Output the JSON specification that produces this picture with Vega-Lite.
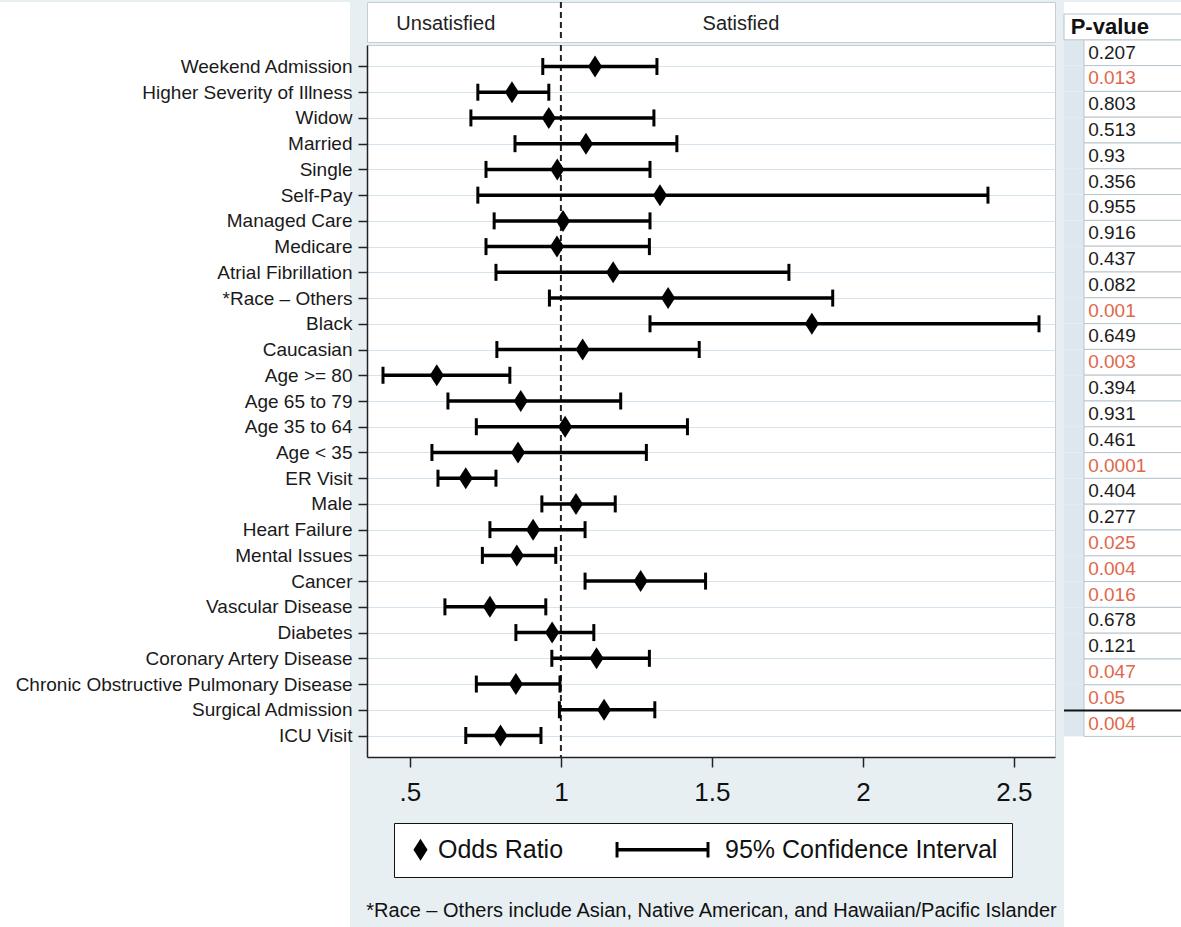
{
  "$schema": "https://vega.github.io/schema/vega-lite/v6.json",
  "background": "#e7eff3",
  "padding": 0,
  "autosize": {"type": "pad"},
  "config": {"view": {"stroke": null}, "font": "Liberation Sans"},
  "datasets": {
    "rows": [
      {"label": "Weekend Admission", "lo": 0.94, "or": 1.113, "hi": 1.318, "p": "0.207", "sig": false},
      {"label": "Higher Severity of Illness", "lo": 0.725, "or": 0.838, "hi": 0.96, "p": "0.013", "sig": true},
      {"label": "Widow", "lo": 0.702, "or": 0.96, "hi": 1.308, "p": "0.803", "sig": false},
      {"label": "Married", "lo": 0.848, "or": 1.083, "hi": 1.384, "p": "0.513", "sig": false},
      {"label": "Single", "lo": 0.752, "or": 0.988, "hi": 1.295, "p": "0.93", "sig": false},
      {"label": "Self-Pay", "lo": 0.725, "or": 1.328, "hi": 2.414, "p": "0.356", "sig": false},
      {"label": "Managed Care", "lo": 0.779, "or": 1.007, "hi": 1.295, "p": "0.955", "sig": false},
      {"label": "Medicare", "lo": 0.752, "or": 0.987, "hi": 1.293, "p": "0.916", "sig": false},
      {"label": "Atrial Fibrillation", "lo": 0.785, "or": 1.173, "hi": 1.755, "p": "0.437", "sig": false},
      {"label": "*Race – Others", "lo": 0.962, "or": 1.355, "hi": 1.9, "p": "0.082", "sig": false},
      {"label": "Black", "lo": 1.295, "or": 1.831, "hi": 2.583, "p": "0.001", "sig": true},
      {"label": "Caucasian", "lo": 0.788, "or": 1.072, "hi": 1.458, "p": "0.649", "sig": false},
      {"label": "Age >= 80", "lo": 0.411, "or": 0.589, "hi": 0.831, "p": "0.003", "sig": true},
      {"label": "Age 65 to 79", "lo": 0.626, "or": 0.867, "hi": 1.198, "p": "0.394", "sig": false},
      {"label": "Age 35 to 64", "lo": 0.72, "or": 1.014, "hi": 1.419, "p": "0.931", "sig": false},
      {"label": "Age < 35", "lo": 0.573, "or": 0.858, "hi": 1.283, "p": "0.461", "sig": false},
      {"label": "ER Visit", "lo": 0.593, "or": 0.685, "hi": 0.785, "p": "0.0001", "sig": true},
      {"label": "Male", "lo": 0.937, "or": 1.05, "hi": 1.18, "p": "0.404", "sig": false},
      {"label": "Heart Failure", "lo": 0.765, "or": 0.908, "hi": 1.08, "p": "0.277", "sig": false},
      {"label": "Mental Issues", "lo": 0.74, "or": 0.854, "hi": 0.983, "p": "0.025", "sig": true},
      {"label": "Cancer", "lo": 1.08, "or": 1.264, "hi": 1.479, "p": "0.004", "sig": true},
      {"label": "Vascular Disease", "lo": 0.616, "or": 0.765, "hi": 0.95, "p": "0.016", "sig": true},
      {"label": "Diabetes", "lo": 0.851, "or": 0.971, "hi": 1.109, "p": "0.678", "sig": false},
      {"label": "Coronary Artery Disease", "lo": 0.97, "or": 1.118, "hi": 1.293, "p": "0.121", "sig": false},
      {"label": "Chronic Obstructive Pulmonary Disease", "lo": 0.72, "or": 0.851, "hi": 0.997, "p": "0.047", "sig": true},
      {"label": "Surgical Admission", "lo": 0.995, "or": 1.143, "hi": 1.311, "p": "0.05", "sig": true},
      {"label": "ICU Visit", "lo": 0.685, "or": 0.8, "hi": 0.934, "p": "0.004", "sig": true}
    ]
  },
  "bounds": "full",
  "spacing": -336,
  "hconcat": [
    {
      "width": 350,
      "height": 927,
      "view": {"fill": "white", "stroke": null},
      "data": {"values": [{}]},
      "mark": {"type": "text"},
      "encoding": {"text": {"value": ""}}
    },
    {
      "bounds": "full",
      "spacing": 5,
      "hconcat": [
        {
          "bounds": "flush",
          "spacing": 3,
          "vconcat": [
            {
              "width": 688,
              "height": 40,
              "view": {"fill": "white", "stroke": "#c3ced5", "strokeWidth": 1},
              "data": {"values": [{}]},
              "layer": [
                {
                  "mark": {"type": "rule", "strokeDash": [6, 4], "strokeWidth": 2, "color": "#222"},
                  "encoding": {"x": {"datum": 1, "type": "quantitative", "scale": {"domain": [0.358, 2.636], "nice": false, "zero": false}, "axis": null}}
                },
                {
                  "mark": {"type": "text", "fontSize": 20, "color": "#222", "baseline": "middle", "dy": 2},
                  "encoding": {"x": {"datum": 0.619, "type": "quantitative"}, "text": {"value": "Unsatisfied"}}
                },
                {
                  "mark": {"type": "text", "fontSize": 20, "color": "#222", "baseline": "middle", "dy": 2},
                  "encoding": {"x": {"datum": 1.596, "type": "quantitative"}, "text": {"value": "Satisfied"}}
                }
              ]
            },
            {
              "width": 688,
              "height": 712,
              "view": {"fill": "white", "stroke": "#c3ced5", "strokeWidth": 1},
              "layer": [
                {
                  "data": {"values": [{}]},
                  "mark": {"type": "rule", "strokeDash": [6, 4], "strokeWidth": 2, "color": "#222"},
                  "encoding": {"x": {"datum": 1, "type": "quantitative", "title": "*Race – Others include Asian, Native American, and Hawaiian/Pacific Islander"}}
                },
                {
                  "data": {"name": "rows"},
                  "mark": {"type": "rule", "strokeWidth": 3.5, "color": "black"},
                  "encoding": {
                    "y": {
                      "field": "label", "type": "nominal", "sort": null, "title": null,
                      "scale": {"type": "point", "padding": 0.835},
                      "axis": {"labelFontSize": 19, "labelLimit": 400, "labelPadding": 6, "tickSize": 9, "tickColor": "#222", "tickWidth": 1.5, "domainColor": "#222", "domainWidth": 1.5, "labelColor": "#1a1a1a", "grid": true, "gridColor": "#d5e4ec", "gridWidth": 1}
                    },
                    "x": {
                      "field": "lo", "type": "quantitative",
                      "title": "*Race – Others include Asian, Native American, and Hawaiian/Pacific Islander",
                      "scale": {"domain": [0.358, 2.636], "nice": false, "zero": false},
                      "axis": {"values": [0.5, 1, 1.5, 2, 2.5], "labelExpr": "datum.value == 0.5 ? '.5' : format(datum.value, '~g')", "labelFontSize": 26, "labelColor": "#111", "tickSize": 10, "tickColor": "#222", "tickWidth": 1.5, "labelPadding": 12, "domainColor": "#222", "domainWidth": 1.5, "grid": false, "titleFontSize": 20, "titleFontWeight": "normal", "titleColor": "#111", "titleBaseline": "alphabetic", "titleY": 159}
                    },
                    "x2": {"field": "hi"}
                  }
                },
                {
                  "data": {"name": "rows"},
                  "mark": {"type": "tick", "orient": "vertical", "size": 17, "thickness": 3, "color": "black", "opacity": 1},
                  "encoding": {
                    "y": {"field": "label", "type": "nominal", "sort": null, "title": null},
                    "x": {"field": "lo", "type": "quantitative", "title": "*Race – Others include Asian, Native American, and Hawaiian/Pacific Islander"}
                  }
                },
                {
                  "data": {"name": "rows"},
                  "mark": {"type": "tick", "orient": "vertical", "size": 17, "thickness": 3, "color": "black", "opacity": 1},
                  "encoding": {
                    "y": {"field": "label", "type": "nominal", "sort": null, "title": null},
                    "x": {"field": "hi", "type": "quantitative", "title": "*Race – Others include Asian, Native American, and Hawaiian/Pacific Islander"}
                  }
                },
                {
                  "data": {"name": "rows"},
                  "mark": {"type": "point", "filled": true, "opacity": 1, "color": "black", "size": 484},
                  "encoding": {
                    "y": {"field": "label", "type": "nominal", "sort": null, "title": null},
                    "x": {"field": "or", "type": "quantitative", "title": "*Race – Others include Asian, Native American, and Hawaiian/Pacific Islander"},
                    "shape": {
                      "datum": "Odds Ratio",
                      "type": "nominal",
                      "scale": {"domain": ["Odds Ratio", "95% Confidence Interval"], "range": ["M0,-1L0.64,0L0,1L-0.64,0Z", "M-8.36,-0.15H0.18V0.15H-8.36Z M-8.36,-0.7H-8.09V0.7H-8.36Z M-0.09,-0.7H0.18V0.7H-0.09Z"]},
                      "legend": {"title": null, "orient": "none", "legendX": 394, "legendY": 821, "direction": "horizontal", "labelFontSize": 25, "labelColor": "#111", "symbolSize": 484, "symbolStrokeWidth": 0, "symbolFillColor": "black", "symbolOpacity": 1, "fillColor": "white", "strokeColor": "#111", "padding": 14, "columnPadding": 51, "labelOffset": 5, "labelLimit": 400}
                    }
                  }
                }
              ]
            }
          ]
        },
        {
          "width": 121,
          "height": 927,
          "view": {"fill": "white", "stroke": null},
          "layer": [
            {
              "data": {"name": "rows"},
              "mark": {"type": "rect", "color": "#dde8ee"},
              "encoding": {
                "y": {"field": "label", "type": "nominal", "axis": null, "title": null,
                  "scale": {"type": "band", "paddingInner": 0, "paddingOuter": 0.465, "align": 0.5,
                    "domain": ["P-value", "Weekend Admission", "Higher Severity of Illness", "Widow", "Married", "Single", "Self-Pay", "Managed Care", "Medicare", "Atrial Fibrillation", "*Race – Others", "Black", "Caucasian", "Age >= 80", "Age 65 to 79", "Age 35 to 64", "Age < 35", "ER Visit", "Male", "Heart Failure", "Mental Issues", "Cancer", "Vascular Disease", "Diabetes", "Coronary Artery Disease", "Chronic Obstructive Pulmonary Disease", "Surgical Admission", "ICU Visit", "_1", "_2", "_3", "_4", "_5", "_6", "_7"]}},
                "x": {"datum": 0, "type": "quantitative", "scale": {"domain": [0, 1], "nice": false, "zero": false}, "axis": null},
                "x2": {"datum": 0.165}
              }
            },
            {
              "data": {"name": "rows"},
              "mark": {"type": "rect", "fill": "white", "stroke": "#b8c5cd", "strokeWidth": 1},
              "encoding": {
                "y": {"field": "label", "type": "nominal"},
                "x": {"datum": 0.165, "type": "quantitative"},
                "x2": {"datum": 1}
              }
            },
            {
              "data": {"name": "rows"},
              "mark": {"type": "text", "align": "left", "baseline": "middle", "fontSize": 19},
              "encoding": {
                "y": {"field": "label", "type": "nominal"},
                "x": {"datum": 0.2, "type": "quantitative"},
                "text": {"field": "p"},
                "color": {"condition": {"test": "datum.sig", "value": "#e0674a"}, "value": "#1c1c1c"}
              }
            },
            {
              "data": {"values": [{"label": "P-value"}]},
              "mark": {"type": "rect", "fill": "white", "stroke": "#b8c5cd", "strokeWidth": 1},
              "encoding": {
                "y": {"field": "label", "type": "nominal"},
                "x": {"datum": 0, "type": "quantitative"},
                "x2": {"datum": 1}
              }
            },
            {
              "data": {"values": [{"label": "P-value"}]},
              "mark": {"type": "text", "align": "left", "baseline": "middle", "fontSize": 22, "fontWeight": "bold", "color": "#111"},
              "encoding": {
                "y": {"field": "label", "type": "nominal"},
                "x": {"datum": 0.055, "type": "quantitative"},
                "text": {"field": "label"}
              }
            },
            {
              "data": {"values": [{"label": "ICU Visit"}]},
              "mark": {"type": "rule", "color": "#111", "strokeWidth": 2},
              "encoding": {
                "y": {"field": "label", "type": "nominal", "bandPosition": 0}
              }
            }
          ]
        }
      ]
    }
  ]
}
